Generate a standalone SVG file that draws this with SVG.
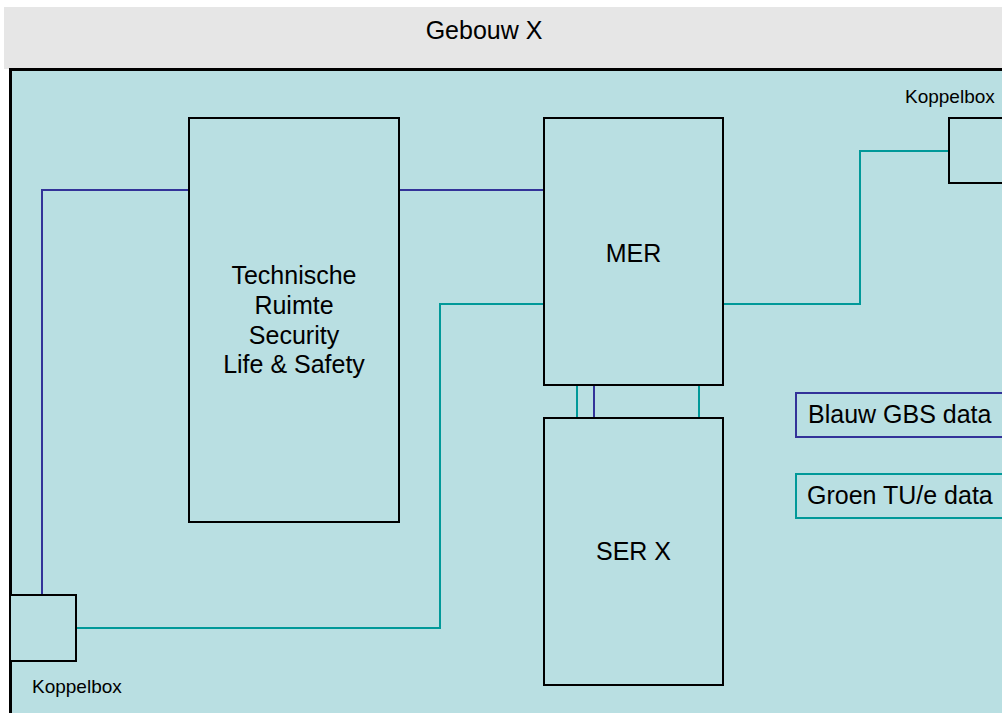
<svg xmlns="http://www.w3.org/2000/svg" width="1002" height="713" viewBox="0 0 1002 713">
  <style>
    .lbl{font-family:"Liberation Sans",Arial,sans-serif;font-size:25px;fill:#000;text-anchor:middle}
    .small{font-family:"Liberation Sans",Arial,sans-serif;font-size:19px;fill:#000}
    .box{fill:#b9dfe2;stroke:#000;stroke-width:2}
    .blue{fill:none;stroke:#333399;stroke-width:2}
    .teal{fill:none;stroke:#009999;stroke-width:2}
  </style>
  <rect x="0" y="0" width="1002" height="713" fill="#ffffff"/>
  <g id="building">
    <rect x="4" y="7" width="998" height="62" fill="#e6e6e6"/>
    <text class="lbl" x="484" y="39">Gebouw X</text>
    <rect x="10.5" y="69.5" width="1000" height="700" fill="#b9dfe2" stroke="#000" stroke-width="3"/>
  </g>
  <g id="connectors">
    <polyline class="blue" points="42,595 42,190 189,190"/>
    <line class="blue" x1="399" y1="190" x2="544" y2="190"/>
    <polyline class="teal" points="76,628 440,628 440,304 544,304"/>
    <polyline class="teal" points="723,304 860,304 860,151 949,151"/>
    <line class="teal" x1="577" y1="385" x2="577" y2="418"/>
    <line class="blue" x1="594" y1="385" x2="594" y2="418"/>
    <line class="teal" x1="699" y1="385" x2="699" y2="418"/>
  </g>
  <g id="technische">
    <rect class="box" x="189" y="118" width="210" height="404"/>
    <text class="lbl" x="294" y="284">Technische</text>
    <text class="lbl" x="294" y="314">Ruimte</text>
    <text class="lbl" x="294" y="344">Security</text>
    <text class="lbl" x="294" y="373">Life &amp; Safety</text>
  </g>
  <g id="mer">
    <rect class="box" x="544" y="118" width="179" height="267"/>
    <text class="lbl" x="633.5" y="262">MER</text>
  </g>
  <g id="ser">
    <rect class="box" x="544" y="418" width="179" height="267"/>
    <text class="lbl" x="633.5" y="560">SER X</text>
  </g>
  <g id="koppelbox-right">
    <rect class="box" x="949" y="118" width="80" height="65"/>
    <text class="small" x="905" y="103">Koppelbox</text>
  </g>
  <g id="koppelbox-left">
    <rect class="box" x="10" y="595" width="66" height="66"/>
    <text class="small" x="32" y="693">Koppelbox</text>
  </g>
  <g id="legend-blauw">
    <rect x="796" y="393" width="230" height="44" fill="#b9dfe2" stroke="#333399" stroke-width="2"/>
    <text class="lbl" x="808" y="423" style="text-anchor:start">Blauw GBS data</text>
  </g>
  <g id="legend-groen">
    <rect x="796" y="474" width="230" height="44" fill="#b9dfe2" stroke="#009999" stroke-width="2"/>
    <text class="lbl" x="807" y="504" style="text-anchor:start">Groen TU/e data</text>
  </g>
</svg>
